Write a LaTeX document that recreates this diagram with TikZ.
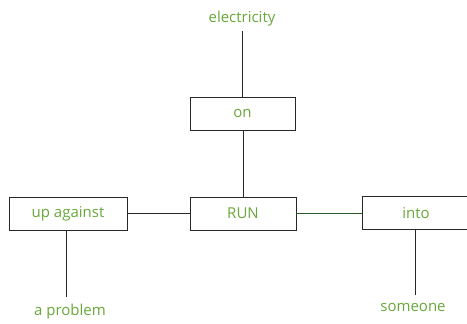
\documentclass[tikz,border=0pt]{standalone}
\usepackage{fontspec}
\setmainfont{Open Sans}
\definecolor{txtgreen}{RGB}{104,168,58}
\definecolor{lnk}{RGB}{40,40,36}
\definecolor{greenline}{RGB}{44,88,40}
\begin{document}
\begin{tikzpicture}[x=1pt,y=-1pt,
  word/.style={text=txtgreen,font=\fontsize{15}{17}\selectfont,inner sep=1pt},
  box/.style={draw=lnk,line width=0.9pt,minimum height=33pt,text=txtgreen,font=\fontsize{15}{17}\selectfont,inner sep=0pt},
  link/.style={draw=lnk,line width=0.9pt}]
\useasboundingbox (0,0) rectangle (467,324);
\node[word] (elec) at (242,19) {electricity};
\node[box,minimum width=105pt] (on) at (242.5,113.5) {on};
\node[box,minimum width=106pt] (run) at (243,213.5) {RUN};
\node[box,minimum width=118pt] (up) at (68,213.5) {up against};
\node[box,minimum width=108pt] (into) at (416,213) {into};
\node[word] (prob) at (70,312) {a problem};
\node[word] (some) at (413,307) {someone};
\coordinate (c1) at (on.north |- 0,31);
\draw[link] (c1) -- (on.north);
\draw[link] (on.south -| run.north) -- (run.north);
\draw[link] (up.east) -- (up.east -| run.west);
\draw[link,draw=greenline] (run.east) -- (run.east -| into.west);
\coordinate (c2) at (66,297);
\coordinate (c3) at (415,295);
\draw[link] (c2 |- up.south) -- (c2);
\draw[link] (c3 |- into.south) -- (c3);
\end{tikzpicture}
\end{document}
